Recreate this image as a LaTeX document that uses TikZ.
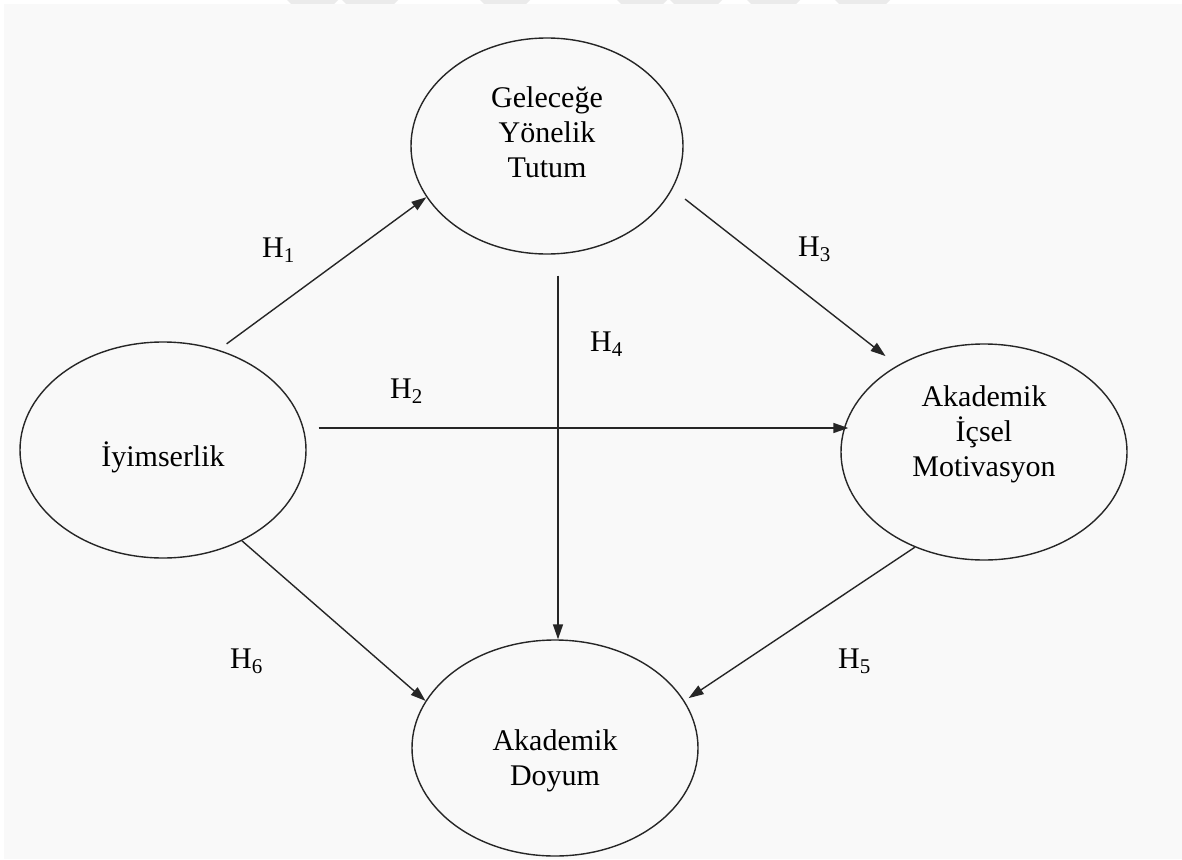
\documentclass[tikz,border=0pt]{standalone}
\usepackage{fontspec}
\setmainfont{Liberation Serif}
\usetikzlibrary{shapes.geometric,arrows.meta}
\definecolor{bgc}{HTML}{F9F9F9}
\definecolor{wm}{HTML}{EBEBEB}
\definecolor{ink}{HTML}{262626}
\tikzset{
  ell/.style={draw=ink, line width=1.4pt, ellipse, inner sep=0pt},
  txt/.style={align=center, font=\fontsize{30}{35}\selectfont, text=black, inner sep=0pt},
  hlab/.style={anchor=base west, font=\fontsize{30}{35}\selectfont, text=black, inner sep=0pt},
  arr/.style={draw=ink, line width=1.4pt, -{Triangle[length=15pt,width=10pt]}}
}
\begin{document}
\begin{tikzpicture}[x=1pt,y=-1pt]
\useasboundingbox (0,0) rectangle (1182,859);
\fill[white] (0,0) rectangle (1182,859);
\fill[bgc] (4,4) rectangle (1182,859);
% faint watermark at top edge
\foreach \a/\b in {287/338,342/398,480/530,617/667,670/722,747/800,835/890}{
  \fill[wm] (\a,0) -- (\b,0) -- (\b-4,4) -- (\a+4,4) -- cycle;
}
% ellipses
\node[ell, minimum width=272pt, minimum height=216pt] (G) at (547,146) {};
\node[ell, minimum width=286pt, minimum height=216pt] (L) at (163,450) {};
\node[ell, minimum width=286pt, minimum height=216pt] (R) at (984,452) {};
\node[ell, minimum width=286pt, minimum height=216pt] (D) at (555,748) {};
% texts
\node[txt] (Gt) at (547,132) {Geleceğe\\Yönelik\\Tutum};
\node[txt] (Lt) at (163,457) {İyimserlik};
\node[txt] (Rt) at (984,434) {Akademik\\İçsel\\Motivasyon};
\node[txt] (Dt) at (555,761) {Akademik\\Doyum};
% connectors
\draw[arr, shorten <=10pt] (L.61) -- (G.203.6);
\draw[arr, shorten <=16pt, shorten >=15pt] (G.-19.5) -- (R.135.5);
\draw[arr] ([xshift=11pt,yshift=-21pt]G.south) -- ([xshift=3pt]D.north);
\draw[arr] ([xshift=12pt,yshift=22pt]L.east) -- ([xshift=8pt,yshift=24pt]R.west);
\draw[arr] (L.-49.8) -- (D.160.7);
\draw[arr, shorten >=5pt] (R.234.4) -- (D.20.7);
% labels
\node[hlab] (H1) at (262,257) {H\textsubscript{1}};
\node[hlab] (H2) at (390,398) {H\textsubscript{2}};
\node[hlab] (H3) at (798,256) {H\textsubscript{3}};
\node[hlab] (H4) at (590,351) {H\textsubscript{4}};
\node[hlab] (H5) at (838,668) {H\textsubscript{5}};
\node[hlab] (H6) at (230,668) {H\textsubscript{6}};
\end{tikzpicture}
\end{document}
